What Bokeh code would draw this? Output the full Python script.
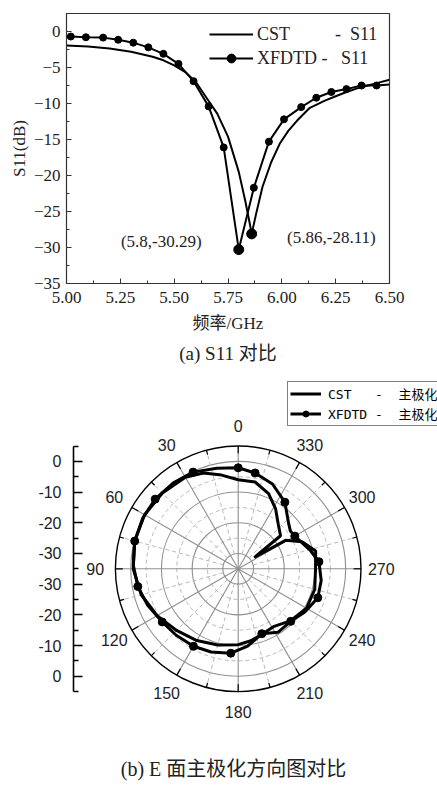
import numpy as np
from bokeh.plotting import figure
from bokeh.models import Range1d, FixedTicker, NumeralTickFormatter, Legend, LegendItem, Label, Title
from bokeh.embed import file_html
from bokeh.resources import INLINE
from bokeh.core.properties import value

NB = "\u00a0"

# ---------------- (a) S11 data ----------------
cst_freq = [5.00, 5.10, 5.20, 5.30, 5.40, 5.45, 5.50, 5.55, 5.60, 5.65, 5.70, 5.75, 5.80,
            5.83, 5.85, 5.86, 5.88, 5.91, 5.95, 5.99, 6.03, 6.07, 6.13, 6.20, 6.25, 6.30,
            6.35, 6.40, 6.45, 6.50]
cst_s11 = [-1.95, -2.1, -2.35, -2.8, -3.5, -4.0, -4.7, -5.6, -7.0, -9.2, -11.4, -14.6, -19.5,
           -23.5, -26.5, -28.11, -25.4, -21.6, -18.2, -15.6, -13.8, -12.4, -10.6, -9.6, -9.0,
           -8.4, -7.9, -7.5, -7.1, -6.7]

xf_freq = [5.02, 5.09, 5.17, 5.24, 5.31, 5.38, 5.45, 5.52, 5.59, 5.66, 5.73, 5.80, 5.87,
           5.94, 6.01, 6.09, 6.16, 6.23, 6.30, 6.37, 6.44]
xf_s11 = [-0.7, -0.8, -0.85, -1.15, -1.55, -2.2, -3.1, -4.5, -6.9, -10.4, -16.1, -30.29, -21.7,
          -15.3, -12.2, -10.5, -9.2, -8.4, -8.0, -7.5, -7.5]
xf_edge_freq = [5.00, 6.50]
xf_edge_s11 = [-0.7, -7.35]

min_freq = [5.80, 5.86]
min_s11 = [-30.29, -28.11]
min_text = ["(5.8,-30.29)", "(5.86,-28.11)"]

freq_ticks = [5.00, 5.25, 5.50, 5.75, 6.00, 6.25, 6.50]
s11_ticks = [-35, -30, -25, -20, -15, -10, -5, 0]

# ---------------- (b) pattern data ----------------
cst_angle = [0, 10, 20, 30, 45, 60, 75, 90, 105, 120, 135, 150, 165, 180, 190, 200, 212, 225,
             240, 255, 270, 283, 293, 301, 305, 308, 318, 328, 338, 349]
cst_db = [-6.0, -4.0, -1.8, -0.6, -0.1, 0.2, -0.1, -0.8, -2.3, -4.5, -6.6, -8.0, -9.3, -10.3,
          -11.2, -12.3, -12.9, -11.0, -9.3, -9.2, -9.8, -9.1, -12.4, -17.0, -28.6, -17.5,
          -15.5, -12.0, -8.6, -6.2]

xf_angle = [0, 12, 25, 37, 50, 62, 75, 88, 100, 112, 125, 137, 150, 162, 175, 187, 200, 212,
            225, 237, 250, 262, 275, 284, 300, 306, 312, 325, 338, 350]
xf_db = [-2.1, -1.5, -0.25, 0.1, 0.3, 0.2, -0.1, -0.8, -1.8, -3.2, -4.8, -5.4, -5.85, -6.5,
         -7.4, -9.6, -12.5, -10.6, -10.8, -9.1, -7.4, -7.7, -8.6, -10.7, -13.7, -14.0, -12.9,
         -8.5, -5.2, -3.3]
xf_marker_step = 25

radial_ticks_db = [0, -10, -20, -30]
angle_ticks = [0, 30, 60, 90, 120, 150, 180, 210, 240, 270, 300, 330]
R0 = -35.0      # dB at the centre
R_OUT = 5.0     # dB at the outer ring

SERIF = "Liberation Serif"
SANS = "Liberation Sans"
CJK_SERIF = SERIF + ", Noto Sans CJK SC"

# ================= figure (a) =================
p1 = figure(width=437, height=376, frame_width=323, frame_height=270,
            x_range=Range1d(5.0, 6.5), y_range=Range1d(-35, 2.5),
            output_backend="svg", toolbar_location=None,
            min_border_left=66, min_border_right=48, min_border_top=13, min_border_bottom=93)
p1.xgrid.visible = False
p1.ygrid.visible = False
p1.outline_line_color = "#333333"
p1.outline_line_width = 1.2

p1.xaxis.ticker = FixedTicker(ticks=freq_ticks,
                              minor_ticks=list(np.arange(5.0, 6.5001, 0.125)))
p1.yaxis.ticker = FixedTicker(ticks=s11_ticks, minor_ticks=list(np.arange(-35, 2.6, 2.5)))
p1.xaxis.formatter = NumeralTickFormatter(format="0.00")
for ax in (p1.xaxis[0], p1.yaxis[0]):
    ax.major_tick_in = 5
    ax.major_tick_out = 0
    ax.minor_tick_in = 3
    ax.minor_tick_out = 0
    ax.axis_line_color = "#333333"
    ax.major_tick_line_color = "#333333"
    ax.minor_tick_line_color = "#333333"
    ax.major_label_text_font = SERIF
    ax.major_label_text_font_size = "17px"
    ax.major_label_text_color = "#222222"
    ax.axis_label_text_font = CJK_SERIF
    ax.axis_label_text_font_size = "17px"
    ax.axis_label_text_font_style = "normal"
    ax.axis_label_text_color = "#222222"
p1.xaxis.axis_label = "频率/GHz"
p1.yaxis.axis_label = "S11(dB)"
p1.xaxis.major_label_standoff = 8
p1.xaxis.axis_label_standoff = 8
p1.yaxis.major_label_standoff = 6
p1.yaxis.axis_label_standoff = 2

r_cst = p1.line(cst_freq, cst_s11, line_color="black", line_width=2)
xf_line_f = [xf_edge_freq[0]] + xf_freq + [xf_edge_freq[1]]
xf_line_s = [xf_edge_s11[0]] + xf_s11 + [xf_edge_s11[1]]
r_xfl = p1.line(xf_line_f, xf_line_s, line_color="black", line_width=2)
r_xfd = p1.scatter(xf_freq, xf_s11, size=7, color="black")
p1.scatter(min_freq, min_s11, size=10, color="black")

for txt, xx, yy in zip(min_text, [5.44, 6.23], [-29.1, -28.6]):
    p1.add_layout(Label(x=xx, y=yy, text=txt, text_align="center", text_baseline="middle",
                        text_font=SERIF, text_font_size="17px", text_color="#222222"))

leg1 = Legend(items=[
    LegendItem(label="CST" + NB * 10 + "-" + NB * 2 + "S11", renderers=[r_cst]),
    LegendItem(label="XFDTD" + NB + "-" + NB * 3 + "S11", renderers=[r_xfl, r_xfd]),
], location=(143, 214), border_line_color=None, background_fill_alpha=0,
    glyph_width=44, glyph_height=22, label_height=22, label_standoff=4, padding=0,
    spacing=2, margin=0, label_text_font=SERIF, label_text_font_size="18px",
    label_text_color="#222222")
p1.add_layout(leg1)

p1.add_layout(Title(text="(a) S11 对比", align="center", text_font=CJK_SERIF,
                    text_font_size="19px", text_font_style="normal", text_color="#222222",
                    standoff=10), "below")

# ================= figure (b) =================
S = 3.07                     # px per dB
FW, FH = 364, 410            # frame size
CX, CY = 164.7, 192.3        # centre in frame pixels (from left / top)
p2 = figure(width=437, height=410, frame_width=FW, frame_height=FH,
            x_range=Range1d(-CX / S, (FW - CX) / S), y_range=Range1d(-(FH - CY) / S, CY / S),
            output_backend="svg", toolbar_location=None, x_axis_location=None,
            min_border_left=73, min_border_right=0, min_border_top=0, min_border_bottom=0)
p2.xgrid.visible = False
p2.ygrid.visible = False
p2.outline_line_color = None


def pol(theta, db):
    r = np.asarray(db, float) - R0
    t = np.radians(np.asarray(theta, float))
    return -r * np.sin(t), r * np.cos(t)


rmax = R_OUT - R0
# grid circles
solid_r = [d - R0 for d in radial_ticks_db]
dash_r = [d - R0 for d in [-25, -15, -5]]
p2.circle(x=[0] * len(solid_r), y=[0] * len(solid_r), radius=solid_r, fill_color=None,
          line_color="#8f8f8f", line_width=1.1)
p2.circle(x=[0] * len(dash_r), y=[0] * len(dash_r), radius=dash_r, fill_color=None,
          line_color="#b8b8b8", line_width=1, line_dash="4 3")
# spokes
sp_t = np.radians(np.arange(0, 360, 30))
p2.multi_line(xs=[[0, -rmax * np.sin(t)] for t in sp_t], ys=[[0, rmax * np.cos(t)] for t in sp_t],
              line_color="#8f8f8f", line_width=1.1)
dp_t = np.radians(np.arange(15, 360, 30))
p2.multi_line(xs=[[-5 * np.sin(t), -rmax * np.sin(t)] for t in dp_t],
              ys=[[5 * np.cos(t), rmax * np.cos(t)] for t in dp_t],
              line_color="#b8b8b8", line_width=1, line_dash="4 3")
# outer ring + ticks
p2.circle(x=[0], y=[0], radius=[rmax], fill_color=None, line_color="black", line_width=1.4)
tk_t = np.radians(np.arange(0, 360, 15))
tk_len = [2.4 if (i % 2 == 0) else 1.5 for i in range(len(tk_t))]
p2.multi_line(xs=[[-rmax * np.sin(t), -(rmax - L) * np.sin(t)] for t, L in zip(tk_t, tk_len)],
              ys=[[rmax * np.cos(t), (rmax - L) * np.cos(t)] for t, L in zip(tk_t, tk_len)],
              line_color="black", line_width=1.2)
# angle labels
lab_r = 46.6
at = np.radians(angle_ticks)
p2.text(x=-lab_r * np.sin(at), y=lab_r * np.cos(at), text=[str(a) for a in angle_ticks],
        text_align="center", text_baseline="middle", text_font=value(SANS),
        text_font_size="16px", text_color="#222222")

# curves
cx, cy = pol(cst_angle + [cst_angle[0] + 360], cst_db + [cst_db[0]])
r_c2 = p2.line(cx, cy, line_color="black", line_width=3)
xx, xy = pol(xf_angle + [xf_angle[0] + 360], xf_db + [xf_db[0]])
r_x2 = p2.line(xx, xy, line_color="black", line_width=3)
mk = [i for i, a in enumerate(xf_angle) if a % xf_marker_step == 0]
mx, my = pol([xf_angle[i] for i in mk], [xf_db[i] for i in mk])
r_x2d = p2.scatter(mx, my, size=8, color="black")

# radial scale axis (left)
pos = [d - R0 for d in radial_ticks_db] + [-(d - R0) for d in radial_ticks_db]
labels = {float(p): str(d) for p, d in zip(pos, radial_ticks_db + radial_ticks_db)}
minor = list(np.arange(-rmax, rmax + 0.1, 10.0))
ya = p2.yaxis[0]
ya.ticker = FixedTicker(ticks=pos, minor_ticks=minor)
ya.major_label_overrides = labels
ya.bounds = (-rmax, rmax)
ya.major_tick_in = 9
ya.major_tick_out = 0
ya.minor_tick_in = 5
ya.minor_tick_out = 0
ya.axis_line_width = 1.6
ya.major_tick_line_width = 1.6
ya.minor_tick_line_width = 1.6
ya.major_label_standoff = 12
ya.major_label_text_font = SANS
ya.major_label_text_font_size = "16px"
ya.major_label_text_color = "#222222"

leg2 = Legend(items=[
    LegendItem(label="CST" + NB * 3 + "-" + NB * 2 + "主极化", renderers=[r_c2]),
    LegendItem(label="XFDTD" + NB + "-" + NB * 2 + "主极化", renderers=[r_x2, r_x2d]),
], location=(214, 360), border_line_color="black", border_line_width=1.3,
    background_fill_color="white", background_fill_alpha=1.0,
    glyph_width=31, glyph_height=15, label_height=15, label_standoff=7, padding=2,
    spacing=1, margin=0, label_text_font="DejaVu Sans Mono, Noto Sans CJK SC",
    label_text_font_size="13px", label_text_color="black")
p2.add_layout(leg2)

p2.add_layout(Label(x=160, y=18, x_units="screen", y_units="screen",
                    text="(b) E 面主极化方向图对比", text_align="center", text_baseline="middle",
                    text_font=CJK_SERIF, text_font_size="20px", text_color="#222222"))

open("out.html", "w").write(file_html([p1, p2], INLINE))
